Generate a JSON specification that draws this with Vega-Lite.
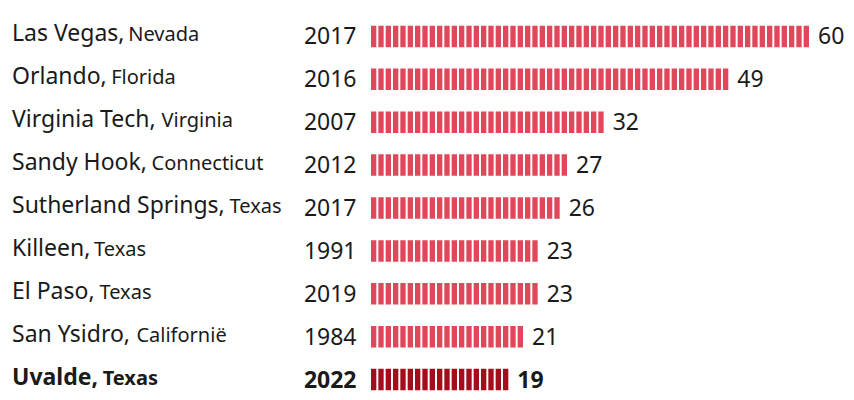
{
  "$schema": "https://vega.github.io/schema/vega-lite/v6.json",
  "width": 483,
  "height": 386,
  "autosize": {"type": "none"},
  "padding": {"left": 371, "top": 15, "right": 0, "bottom": 0},
  "background": "white",
  "config": {"view": {"stroke": null}, "font": "Noto Sans"},
  "data": {
    "values": [
      {"city": "Las Vegas", "state": "Nevada", "year": 2017, "deaths": 60},
      {"city": "Orlando", "state": "Florida", "year": 2016, "deaths": 49},
      {"city": "Virginia Tech", "state": "Virginia", "year": 2007, "deaths": 32},
      {"city": "Sandy Hook", "state": "Connecticut", "year": 2012, "deaths": 27},
      {"city": "Sutherland Springs", "state": "Texas", "year": 2017, "deaths": 26},
      {"city": "Killeen", "state": "Texas", "year": 1991, "deaths": 23},
      {"city": "El Paso", "state": "Texas", "year": 2019, "deaths": 23},
      {"city": "San Ysidro", "state": "Californië", "year": 1984, "deaths": 21},
      {"city": "Uvalde", "state": "Texas", "year": 2022, "deaths": 19}
    ]
  },
  "transform": [
    {"calculate": "datum.city + '|' + datum.year", "as": "key"},
    {"calculate": "0", "as": "base"},
    {"calculate": "0.58*length(datum.city + ', ') - 0.325*length(replace(datum.city + ', ', regexp('[^ijlI,. ]','g'), '')) - 0.21*length(replace(datum.city, regexp('[^frt]','g'), '')) - 0.09*length(replace(datum.city, regexp('[^csvxyz]','g'), '')) + 0.17*length(replace(datum.city, regexp('[^mwMWHOUDGN]','g'), '')) + 0.053*length(replace(datum.city, regexp('[^nohdupgqb]','g'), '')) - 0.029*length(replace(datum.city, regexp('[^aesLVS]','g'), '')) - 0.13*length(replace(datum.city, regexp('[^k]','g'), ''))", "as": "wem"},
    {"calculate": "(-359.5 + datum.wem * 23 * (datum.city == 'Uvalde' ? 1.06 : 1)) / 7.33333", "as": "stateX"}
  ],
  "layer": [
    {
      "mark": {"type": "rule", "strokeWidth": 21.5, "strokeDash": [5.333, 2], "strokeCap": "butt"},
      "encoding": {
        "x": {"field": "base", "type": "quantitative", "scale": {"domain": [0, 65.864], "nice": false, "zero": false}, "axis": null},
        "x2": {"field": "deaths"},
        "y": {
          "field": "key", "type": "nominal", "sort": null,
          "scale": {"paddingInner": 0, "paddingOuter": 0},
          "axis": {
            "orient": "left", "title": null, "domain": false, "ticks": false, "tickSize": 0, "grid": false,
            "labelAlign": "left", "labelPadding": 359.5, "labelBaseline": "alphabetic", "labelOffset": 5,
            "labelFontSize": 23, "labelColor": "#1a1a1a", "labelFont": "Noto Sans", "labelLimit": 400, "labelOverlap": false,
            "labelExpr": "split(datum.value, '|')[0] + ','",
            "labelFontWeight": {"condition": {"test": "indexof(datum.value, 'Uvalde') == 0", "value": "bold"}, "value": "normal"}
          }
        },
        "color": {"condition": {"test": "datum.city == 'Uvalde'", "value": "#a40d1b"}, "value": "#e1475a"}
      }
    },
    {
      "transform": [{"filter": "datum.city != 'Uvalde'"}],
      "mark": {"type": "text", "align": "left", "baseline": "alphabetic", "dx": 7, "dy": 8, "fontSize": 23, "color": "#1a1a1a"},
      "encoding": {
        "x": {"field": "deaths", "type": "quantitative", "axis": null},
        "text": {"field": "deaths", "type": "quantitative"},
        "y": {
          "field": "key", "type": "nominal", "sort": null,
          "axis": {
            "orient": "left", "title": null, "domain": false, "ticks": false, "tickSize": 0, "grid": false,
            "labelAlign": "right", "labelPadding": 15, "labelBaseline": "alphabetic", "labelOffset": 8,
            "labelFontSize": 23, "labelColor": "#1a1a1a", "labelFont": "Noto Sans", "labelLimit": 400, "labelOverlap": false,
            "labelExpr": "split(datum.value, '|')[1]",
            "labelFontWeight": {"condition": {"test": "indexof(datum.value, 'Uvalde') == 0", "value": "bold"}, "value": "normal"}
          }
        }
      }
    },
    {
      "transform": [{"filter": "datum.city == 'Uvalde'"}],
      "mark": {"type": "text", "align": "left", "baseline": "alphabetic", "dx": 7, "dy": 8, "fontSize": 23, "fontWeight": "bold", "color": "#1a1a1a"},
      "encoding": {
        "x": {"field": "deaths", "type": "quantitative", "axis": null},
        "text": {"field": "deaths", "type": "quantitative"},
        "y": {"field": "key", "type": "nominal", "sort": null, "axis": null}
      }
    },
    {
      "transform": [{"filter": "datum.city != 'Uvalde'"}],
      "mark": {"type": "text", "align": "left", "baseline": "alphabetic", "dy": 5, "fontSize": 20, "color": "#1a1a1a"},
      "encoding": {
        "x": {"field": "stateX", "type": "quantitative", "axis": null},
        "y": {"field": "key", "type": "nominal", "sort": null, "axis": null},
        "text": {"field": "state", "type": "nominal"}
      }
    },
    {
      "transform": [{"filter": "datum.city == 'Uvalde'"}],
      "mark": {"type": "text", "align": "left", "baseline": "alphabetic", "dy": 5, "fontSize": 20, "fontWeight": "bold", "color": "#1a1a1a"},
      "encoding": {
        "x": {"field": "stateX", "type": "quantitative", "axis": null},
        "y": {"field": "key", "type": "nominal", "sort": null, "axis": null},
        "text": {"field": "state", "type": "nominal"}
      }
    }
  ],
  "resolve": {"axis": {"y": "independent"}}
}
